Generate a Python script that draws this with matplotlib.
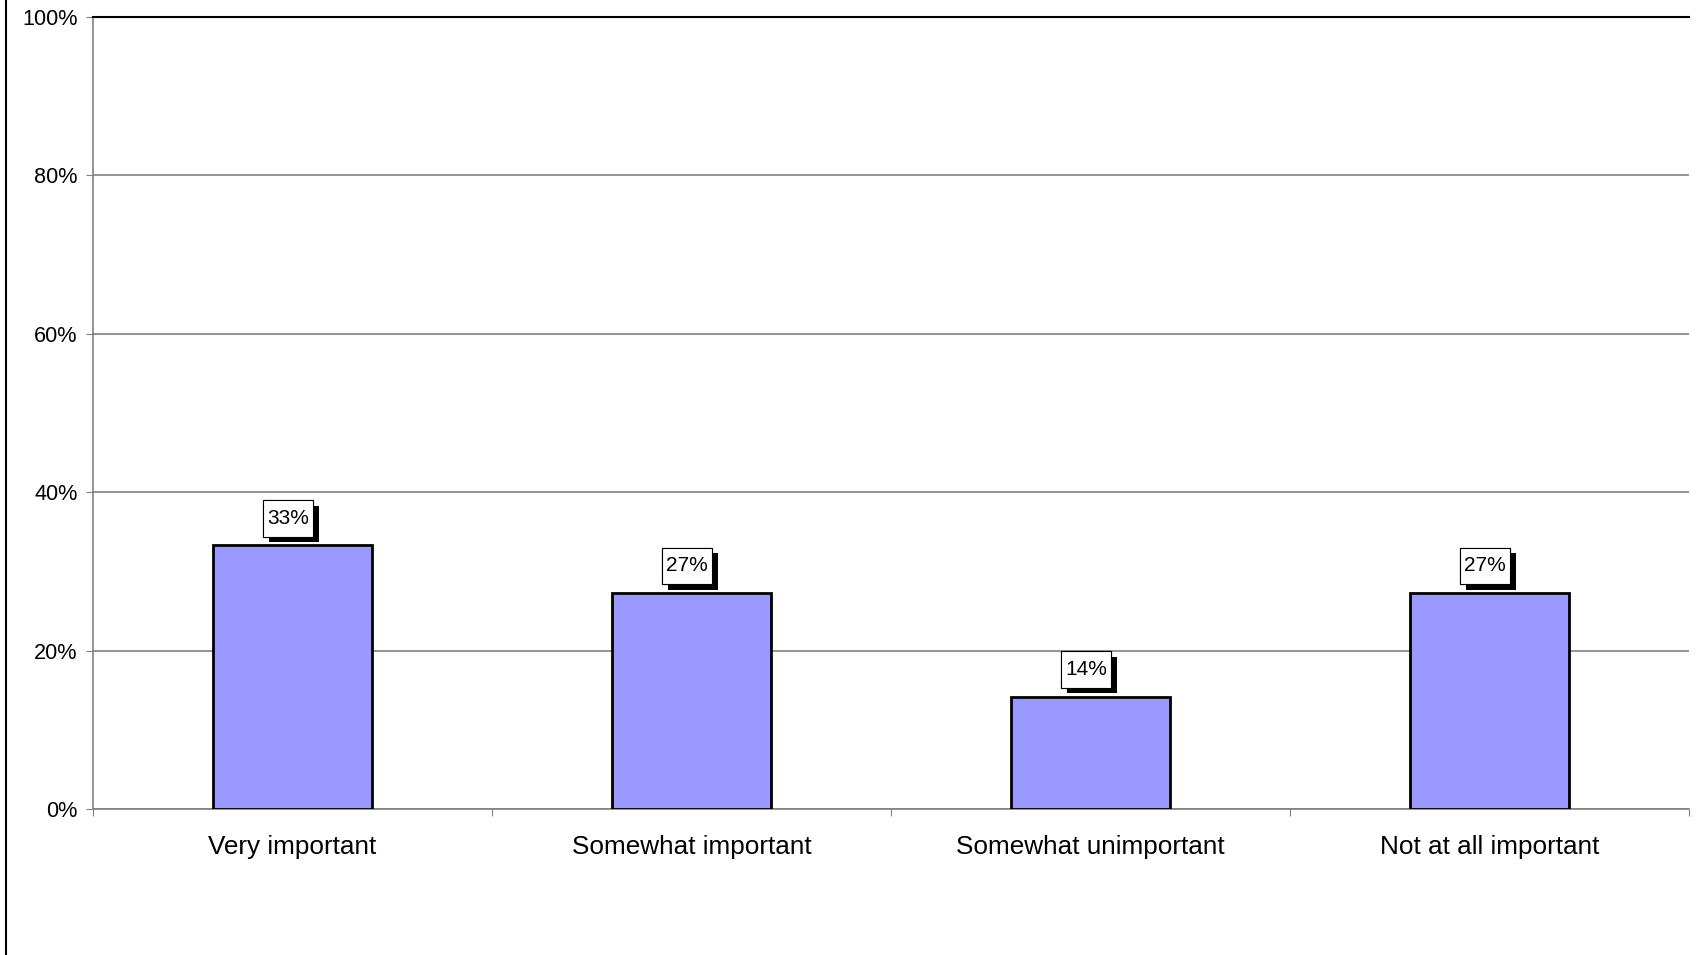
"""Bar chart: importance ratings with shadowed value labels."""
import matplotlib
matplotlib.use('Agg')
import matplotlib.pyplot as plt
import matplotlib.patheffects as pe
from matplotlib.lines import Line2D
from matplotlib.path import Path
import numpy as np

plt.rcParams['font.family'] = ['Liberation Sans', 'DejaVu Sans']

categories = ['Very important', 'Somewhat important',
              'Somewhat unimportant', 'Not at all important']
values = [33.3, 27.3, 14.2, 27.3]
yticks = [0, 20, 40, 60, 80, 100]


def label_box(x0, y0, width, height, mutation_size):
    # square box, more padding top/bottom than left/right
    px, py = 0.2 * mutation_size, 0.42 * mutation_size
    x0, y0 = x0 - px, y0 - py
    x1, y1 = x0 + width + 2 * px, y0 + height + 2 * py
    return Path([(x0, y0), (x1, y0), (x1, y1), (x0, y1), (x0, y0)],
                closed=True)


fig = plt.figure(figsize=(16.99, 9.55), dpi=100)
ax = fig.add_axes([0.0547, 0.1529, 0.9394, 0.8293])

x = np.arange(len(categories))
ax.bar(x, values, width=0.4, color='#9999FF', edgecolor='black',
       linewidth=2, zorder=3)

# value labels in white boxes with a black drop shadow
for xi, v in zip(x, values):
    t = ax.annotate(f'{v:.0f}%', (xi, v), xytext=(-3, 12.5),
                    textcoords='offset points', ha='center', va='bottom',
                    fontsize=15, zorder=5,
                    bbox=dict(boxstyle=label_box, fc='white',
                              ec='black', lw=0.8))
    t.get_bbox_patch().set_path_effects(
        [pe.withSimplePatchShadow(offset=(4, -4), shadow_rgbFace='black',
                                  alpha=1.0), pe.Normal()])

ax.set_xlim(-0.5, len(categories) - 0.5)
ax.set_ylim(0, 100)
ax.set_yticks(yticks)
ax.set_yticklabels([f'{t}%' for t in yticks], fontsize=15.6)
ax.yaxis.grid(True, color='#808080', linewidth=1.2, zorder=0)
ax.set_axisbelow(True)

# boundary ticks as major, category names as minor labels
ax.set_xticks(np.arange(len(categories) + 1) - 0.5)
ax.set_xticklabels([])
ax.set_xticks(x, minor=True)
ax.set_xticklabels(categories, minor=True, fontsize=18.8)
ax.tick_params(axis='x', which='major', direction='out', length=5,
               color='#808080')
ax.tick_params(axis='x', which='minor', length=0, pad=19)
ax.tick_params(axis='y', direction='out', length=5, pad=6,
               color='#808080')

ax.spines['right'].set_visible(False)
ax.spines['top'].set_color('black')
ax.spines['top'].set_linewidth(1.5)
for s in ['left', 'bottom']:
    ax.spines[s].set_color('#808080')
    ax.spines[s].set_linewidth(1.2)

# frame line on the left edge of the figure
fig.add_artist(Line2D([6 / 1699, 6 / 1699], [0, 1], color='black',
                      linewidth=1.5, transform=fig.transFigure))

plt.savefig('out.png', dpi=100)
